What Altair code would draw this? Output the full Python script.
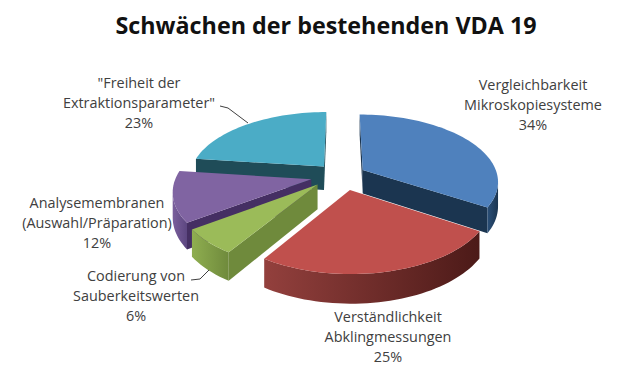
import math
import altair as alt

TITLE = "Schwächen der bestehenden VDA 19"
CATEGORIES = ["Vergleichbarkeit Mikroskopiesysteme", "Verständlichkeit Abklingmessungen",
              "Codierung von Sauberkeitswerten", "Analysemembranen (Auswahl/Präparation)",
              "Freiheit der Extraktionsparameter"]
VALUES = [34, 25, 6, 12, 23]
LABELS = ["Vergleichbarkeit\nMikroskopiesysteme\n34%",
          "Verständlichkeit\nAbklingmessungen\n25%",
          "Codierung von\nSauberkeitswerten\n6%",
          "Analysemembranen\n(Auswahl/Präparation)\n12%",
          "\"Freiheit der\nExtraktionsparameter\"\n23%"]

# style per slice: top colour, radial wall colour, outer wall gradient (left, right)
TOP = ["#4f81bd", "#c0504d", "#9bbb59", "#8064a2", "#4bacc6"]
WALL = ["#1b3550", "#4f1c1a", "#6f8a3c", "#452f63", "#1f4c58"]
ARC = [("#2a4f78", "#1b3550"), ("#93403d", "#4c1a18"), ("#8fae50", "#6f8a3c"),
       ("#7a5f9c", "#5c4680"), ("#1f4c58", "#1f4c58")]

# layout of the projected pie, in image pixels
CX, CY, RX, RY, K, DEPTH, EXPLODE = 340, 175, 135, 66, 0.16, 24, 0.195
NUDGE = [(0, 1), (4, 2), (-4, 0), (-3, 1), (1, 1)]
LABEL_POS = [(533, 86), (388, 318), (136, 277), (97, 204), (139, 84)]
LEADERS = [[(220, 106), (228, 108), (248, 123)], [(191, 280), (200, 279), (209, 270)]]
W, H = 610, 360


def shape(geom, fill):
    return alt.Chart(alt.Data(values=[geom])).mark_geoshape(fill=fill, stroke=None).project(
        type="identity", scale=1, translate=[-8, -8])


def top(u, v, dx=0, dy=0):
    s = 1 / (1 - K * v)
    return [CX + dx + RX * u * s, CY + dy + RY * v * s]


def bottom(u, v, dx=0, dy=0):
    s = 1 / (1 - K * v)
    return [CX + dx + RX * u * s, CY + dy + RY * v * s + DEPTH * s]


def poly(points):
    ring = points + [points[0]]
    return {"type": "Feature", "properties": {},
            "geometry": {"type": "Polygon", "coordinates": [ring]}}


layers = []
total = sum(VALUES)
starts = [sum(VALUES[:i]) / total * 360 for i in range(len(VALUES))]
order = [0, 4, 3, 2, 1]  # painter's order, back to front
for i in order:
    a0 = starts[i]
    a1 = a0 + VALUES[i] / total * 360
    mid = math.radians((a0 + a1) / 2)
    u0, v0 = EXPLODE * math.sin(mid), -EXPLODE * math.cos(mid)
    n = max(8, int((a1 - a0) / 2))
    ground = [(u0 + math.sin(math.radians(a0 + (a1 - a0) * j / n)),
               v0 - math.cos(math.radians(a0 + (a1 - a0) * j / n))) for j in range(n + 1)]
    apex = (u0, v0)
    d = NUDGE[i]
    # radial walls, shown only when they face the viewer
    for p, q in [(apex, ground[0]), (ground[-1], apex)]:
        if top(*q)[0] < top(*p)[0] - 0.5:
            layers.append(shape(poly([top(*p, *d), top(*q, *d), bottom(*q, *d), bottom(*p, *d)]), WALL[i]))
    # outer wall
    vis = [j for j in range(n) if top(*ground[j + 1])[0] < top(*ground[j])[0]]
    if vis:
        seq = ground[vis[0]:vis[-1] + 2]
        pts = [top(*g, *d) for g in seq] + [bottom(*g, *d) for g in reversed(seq)]
        fill = alt.Gradient(gradient="linear", x1=0, x2=1, y1=0, y2=0,
                            stops=[alt.GradientStop(offset=0, color=ARC[i][0]),
                                   alt.GradientStop(offset=1, color=ARC[i][1])])
        layers.append(shape(poly(pts), fill))
    # top face
    layers.append(shape(poly([top(*apex, *d)] + [top(*g, *d) for g in ground]), TOP[i]))

for line in LEADERS:
    geom = {"type": "Feature", "properties": {},
            "geometry": {"type": "LineString", "coordinates": [list(p) for p in line]}}
    layers.append(alt.Chart(alt.Data(values=[geom])).mark_geoshape(
        filled=False, stroke="#404040", strokeWidth=1).project(
        type="identity", scale=1, translate=[-8, -8]))

for lab, (x, y) in zip(LABELS, LABEL_POS):
    layers.append(alt.Chart(alt.Data(values=[{"a": 1}])).mark_text(
        font="Open Sans", fontSize=14.4, color="#404040", align="center", baseline="middle",
        lineBreak="\n", lineHeight=19.8).encode(
        x=alt.value(x - 8), y=alt.value(y - 8), text=alt.value(lab)))

layers.append(alt.Chart(alt.Data(values=[{"a": 1}])).mark_text(
    font="Open Sans", fontSize=23.3, fontWeight="bold", color="#111111", align="center",
    baseline="middle").encode(x=alt.value(326 - 8), y=alt.value(27 - 8), text=alt.value(TITLE)))

chart = alt.layer(*layers).properties(
    width=W, height=H, padding=0, autosize=alt.AutoSizeParams(type="none")
).configure_view(stroke=None)

chart.save("out.html", embed_options={"renderer": "svg", "actions": False})
